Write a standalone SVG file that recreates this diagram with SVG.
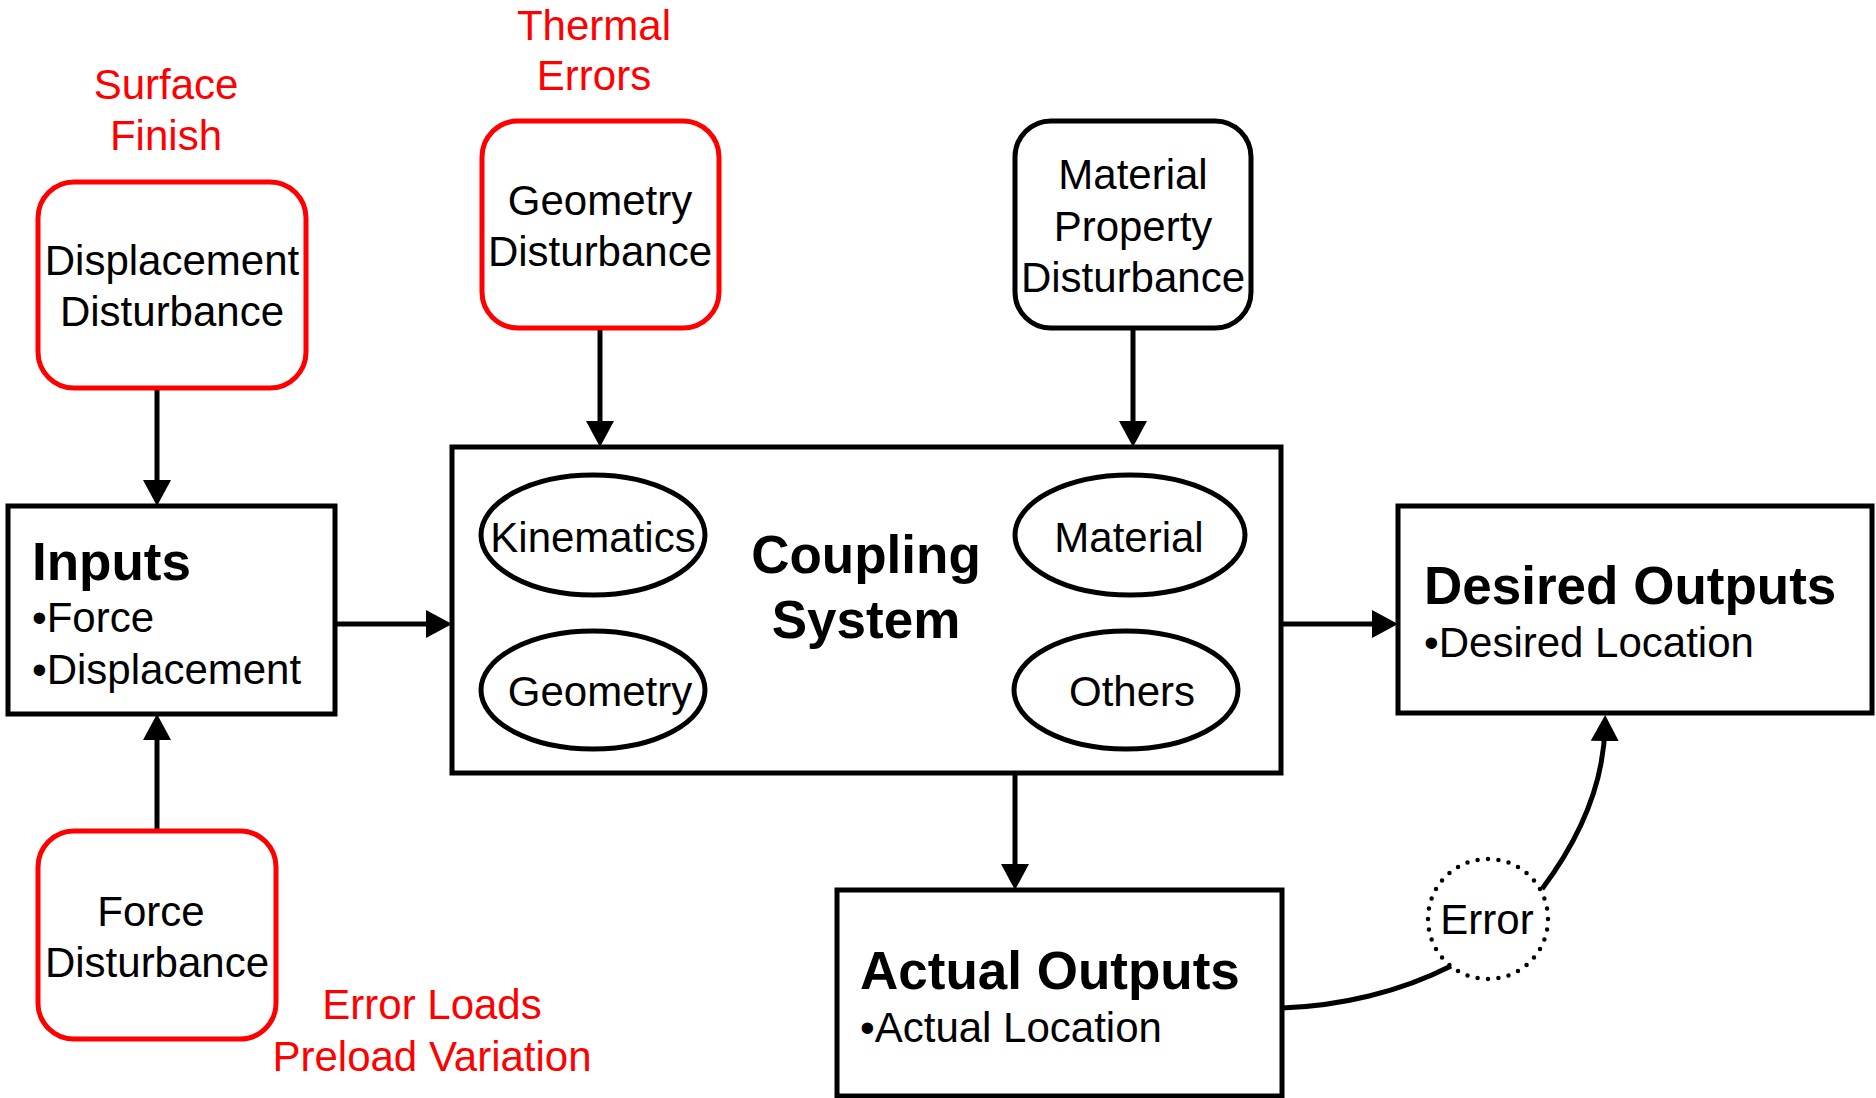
<svg xmlns="http://www.w3.org/2000/svg" width="1876" height="1098" viewBox="0 0 1876 1098">
<style>
text{font-family:"Liberation Sans",Arial,Helvetica,sans-serif;font-size:42px;fill:#000}
.c{text-anchor:middle}
.red{fill:#ff0000}
.b{font-weight:bold;font-size:53px}
.box{fill:#fff;stroke:#000;stroke-width:5}
.rbox{fill:#fff;stroke:#ff0000;stroke-width:5}
.kbox{fill:#fff;stroke:#000;stroke-width:5}
.ell{fill:#fff;stroke:#000;stroke-width:5}
.edge{fill:none;stroke:#000;stroke-width:5}
</style>
<defs>
<marker id="ah" markerUnits="userSpaceOnUse" markerWidth="30" markerHeight="30" refX="16" refY="14" orient="auto">
<path d="M0,0 L26,14 L0,28 Z" fill="#000"/>
</marker>
</defs>
<rect width="1876" height="1098" fill="#fff"/>
<g id="labels">
<text class="c red" x="166" y="99">Surface</text>
<text class="c red" x="166" y="150">Finish</text>
<text class="c red" x="594" y="40">Thermal</text>
<text class="c red" x="594" y="90">Errors</text>
<text class="c red" x="432" y="1019">Error Loads</text>
<text class="c red" x="432" y="1071">Preload Variation</text>
</g>
<g id="connectors">
<path class="edge" d="M157,388 V496" marker-end="url(#ah)"/>
<path class="edge" d="M157,831 V724" marker-end="url(#ah)"/>
<path class="edge" d="M335,624 H442" marker-end="url(#ah)"/>
<path class="edge" d="M600,328 V437" marker-end="url(#ah)"/>
<path class="edge" d="M1133,328 V437" marker-end="url(#ah)"/>
<path class="edge" d="M1281,624 H1388" marker-end="url(#ah)"/>
<path class="edge" d="M1015,773 V880" marker-end="url(#ah)"/>
<path class="edge" d="M1282,1008 C1340,1006 1400,992 1451,966"/>
<path class="edge" d="M1542,889 C1575,845 1604,790 1605,725" marker-end="url(#ah)"/>
</g>
<g id="displacement-disturbance">
<rect class="rbox" x="38" y="182" width="268" height="206" rx="36"/>
<text class="c" x="172" y="275">Displacement</text>
<text class="c" x="172" y="326">Disturbance</text>
</g>
<g id="geometry-disturbance">
<rect class="rbox" x="482" y="121" width="237" height="207" rx="36"/>
<text class="c" x="600" y="215">Geometry</text>
<text class="c" x="600" y="266">Disturbance</text>
</g>
<g id="material-property-disturbance">
<rect class="kbox" x="1015" y="121" width="236" height="207" rx="36"/>
<text class="c" x="1133" y="189">Material</text>
<text class="c" x="1133" y="241">Property</text>
<text class="c" x="1133" y="292">Disturbance</text>
</g>
<g id="inputs">
<rect class="box" x="8" y="506" width="327" height="208"/>
<text class="b" x="32" y="580">Inputs</text>
<text x="32" y="632">•Force</text>
<text x="32" y="684">•Displacement</text>
</g>
<g id="force-disturbance">
<rect class="rbox" x="38" y="831" width="238" height="208" rx="36"/>
<text class="c" x="151" y="926">Force</text>
<text class="c" x="157" y="977">Disturbance</text>
</g>
<g id="coupling-system">
<rect class="box" x="452" y="447" width="829" height="326"/>
<text class="c b" x="866" y="573">Coupling</text>
<text class="c b" x="866" y="638">System</text>
</g>
<g id="kinematics">
<ellipse class="ell" cx="593" cy="535" rx="112" ry="60"/>
<text class="c" x="593" y="552">Kinematics</text>
</g>
<g id="geometry">
<ellipse class="ell" cx="593" cy="690" rx="112" ry="59"/>
<text class="c" x="600" y="706">Geometry</text>
</g>
<g id="material">
<ellipse class="ell" cx="1130" cy="535" rx="115" ry="60"/>
<text class="c" x="1129" y="552">Material</text>
</g>
<g id="others">
<ellipse class="ell" cx="1126" cy="690" rx="112" ry="59"/>
<text class="c" x="1132" y="706">Others</text>
</g>
<g id="desired-outputs">
<rect class="box" x="1398" y="506" width="474" height="207"/>
<text class="b" x="1424" y="604">Desired Outputs</text>
<text x="1424" y="657">•Desired Location</text>
</g>
<g id="actual-outputs">
<rect class="box" x="837" y="890" width="445" height="206"/>
<text class="b" x="860" y="989">Actual Outputs</text>
<text x="860" y="1042">•Actual Location</text>
</g>
<g id="error">
<circle cx="1488" cy="919" r="60" fill="none" stroke="#000" stroke-width="4.5" stroke-linecap="round" pathLength="36" stroke-dasharray="0 1"/>
<text class="c" x="1487" y="934">Error</text>
</g>
</svg>
